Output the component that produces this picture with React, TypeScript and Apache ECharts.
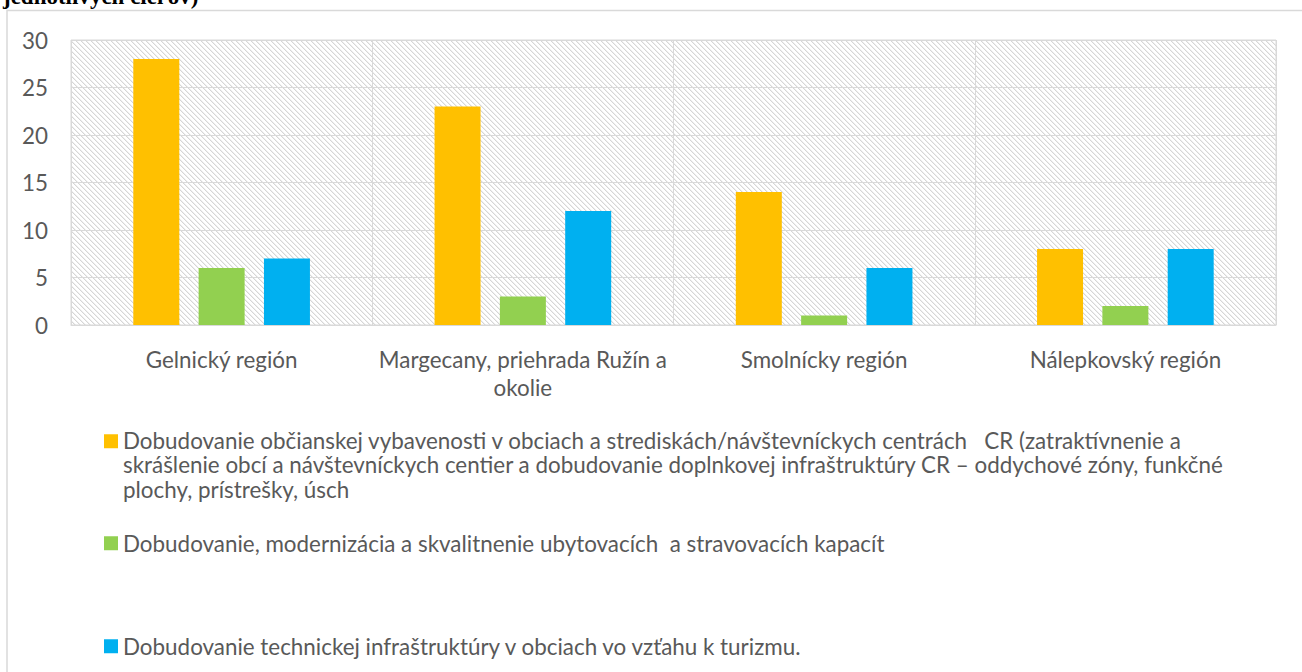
import React, { useEffect, useRef } from 'react';
import * as echarts from 'echarts';

const categories = [
  'Gelnický región',
  'Margecany, priehrada Ružín a\nokolie',
  'Smolnícky región',
  'Nálepkovský región',
];

const legendLines1 = [
  'Dobudovanie občianskej vybavenosti v obciach a strediskách/návštevníckych centrách   CR (zatraktívnenie a',
  'skrášlenie obcí a návštevníckych centier a dobudovanie doplnkovej infraštruktúry CR – oddychové zóny, funkčné',
  'plochy, prístrešky, úsch',
];
const seriesNames = [
  legendLines1.join(' '),
  'Dobudovanie, modernizácia a skvalitnenie ubytovacích  a stravovacích kapacít',
  'Dobudovanie technickej infraštruktúry v obciach vo vzťahu k turizmu.',
];

const obcianskaVybavenost = [28, 23, 14, 8];
const ubytovanieStravovanie = [6, 3, 1, 2];
const technickaInfra = [7, 12, 6, 8];

const seriesColors = ['#FFC000', '#92D050', '#00B0F0'];

const yMin = 0;
const yMax = 30;
const yInterval = 5;

const titleText = 'jednotlivých cieľov)';

const FONT = 'Lato, "Open Sans", sans-serif';
const FONT_SIZE = 22.4;
const TEXT_COLOR = '#595959';
const GRID_COLOR = '#d9d9d9';

function makeHatch() {
  const s = 5;
  const c = document.createElement('canvas');
  c.width = s;
  c.height = s;
  const ctx = c.getContext('2d')!;
  ctx.fillStyle = '#ffffff';
  ctx.fillRect(0, 0, s, s);
  ctx.fillStyle = '#d6d6d6';
  for (let i = 0; i < s; i++) ctx.fillRect(i, i, 1, 1);
  ctx.fillStyle = '#efefef';
  for (let i = 0; i < s; i++) ctx.fillRect((i + 1) % s, i, 1, 1);
  return c;
}

export default function App() {
  const ref = useRef<HTMLDivElement>(null);

  useEffect(() => {
    if (!ref.current) return;
    const chart = echarts.init(ref.current, undefined, { renderer: 'svg' });
    const hatch = makeHatch();

    const makeLegend = (idx: number, top: number, multi: boolean) => ({
      show: true,
      orient: 'vertical',
      left: 104,
      top,
      padding: 0,
      data: [seriesNames[idx]],
      itemWidth: 14,
      itemHeight: multi ? 73 : 14,
      icon: multi ? 'path://M0,0M0,0.42L1,0.42L1,1.42L0,1.42ZM0,5.214' : 'rect',
      selectedMode: false,
      formatter: multi ? () => legendLines1.join('\n') : undefined,
      textStyle: {
        fontFamily: FONT,
        fontSize: FONT_SIZE,
        color: TEXT_COLOR,
        lineHeight: 24.5,
      },
    });

    const option: any = {
      animation: false,
      backgroundColor: '#ffffff',
      title: {
        text: titleText,
        left: 3,
        top: -15,
        padding: 0,
        textStyle: {
          fontFamily: '"Liberation Serif", serif',
          fontWeight: 'bold',
          fontSize: 23,
          color: '#000000',
        },
      },
      graphic: [
        {
          type: 'rect',
          silent: true,
          z: -10,
          shape: { x: 7, y: 10.5, width: 1320, height: 700 },
          style: { fill: 'none', stroke: GRID_COLOR, lineWidth: 1.5 },
        },
      ],
      legend: [makeLegend(0, 428, true), makeLegend(1, 531, false), makeLegend(2, 634, false)],
      grid: {
        left: 71,
        right: 26,
        top: 40,
        bottom: 347,
        show: true,
        backgroundColor: { image: hatch, repeat: 'repeat', imageWidth: 5, imageHeight: 5 },
        borderColor: GRID_COLOR,
        borderWidth: 1,
      },
      xAxis: {
        type: 'category',
        data: categories,
        axisLine: { lineStyle: { color: GRID_COLOR, width: 1 } },
        axisTick: { show: false },
        splitLine: { show: true, lineStyle: { color: GRID_COLOR, width: 1 } },
        axisLabel: {
          fontFamily: FONT,
          fontSize: FONT_SIZE,
          color: TEXT_COLOR,
          margin: 20,
          lineHeight: 28,
          interval: 0,
        },
      },
      yAxis: {
        type: 'value',
        min: yMin,
        max: yMax,
        interval: yInterval,
        axisLine: { show: false },
        axisTick: { show: false },
        splitLine: { lineStyle: { color: GRID_COLOR, width: 1 } },
        axisLabel: {
          fontFamily: FONT,
          fontSize: FONT_SIZE,
          color: TEXT_COLOR,
          margin: 23,
        },
      },
      series: [
        { name: seriesNames[0], type: 'bar', data: obcianskaVybavenost, color: seriesColors[0], barWidth: 46, barGap: '42%' },
        { name: seriesNames[1], type: 'bar', data: ubytovanieStravovanie, color: seriesColors[1], barWidth: 46, barGap: '42%' },
        { name: seriesNames[2], type: 'bar', data: technickaInfra, color: seriesColors[2], barWidth: 46, barGap: '42%' },
      ],
    };

    chart.setOption(option);
    return () => chart.dispose();
  }, []);

  return (
    <div
      ref={ref}
      style={{ position: 'fixed', left: 0, top: 0, width: 1302, height: 672 }}
    />
  );
}
